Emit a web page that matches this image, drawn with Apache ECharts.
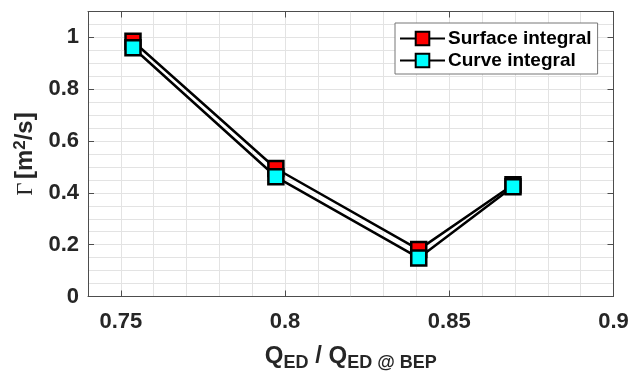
<!DOCTYPE html>
<html>
<head>
<meta charset="utf-8">
<script src="https://cdn.jsdelivr.net/npm/echarts@6/dist/echarts.min.js"></script>
<style>
  html, body { margin: 0; padding: 0; background: #fff; }
  #chart { width: 632px; height: 375px; }
</style>
</head>
<body>
<div id="chart"></div>
<script>
const qRatio = [0.7537, 0.7972, 0.8407, 0.8694]
const surfaceIntegral = [0.985, 0.494, 0.181, 0.431]
const curveIntegral = [0.960, 0.462, 0.149, 0.424]
const xTicks = [0.75, 0.8, 0.85, 0.9]
const yTicks = [0, 0.2, 0.4, 0.6, 0.8, 1]

const pairs = (ys) => qRatio.map((x, i) => [x, ys[i]])

const font = "'Liberation Sans', Arial, sans-serif"
const axisColor = "#4d4d4d"
const gridColor = "#e3e3e3"
const X_RANGE = { min: 0.74, max: 0.9 }
const Y_RANGE = { min: 0, max: 1.1 }

const myChart = echarts.init(document.getElementById("chart"))

const lineSeries = (name, color, data) => ({
  name,
  type: "line",
  data,
  xAxisIndex: 0,
  yAxisIndex: 0,
  symbol: "rect",
  symbolSize: 15,
  showAllSymbol: true,
  lineStyle: { color: "#000", width: 2.5 },
  itemStyle: { color, borderColor: "#000", borderWidth: 2.5 },
  emphasis: { disabled: true },
  animation: false
})

// frame axis: line + inward ticks, optional labels
const frameAxis = (position, range, ticks, label) => ({
  type: "value",
  position,
  ...range,
  axisLine: { show: true, onZero: false, lineStyle: { color: axisColor, width: 1 } },
  axisTick: { show: true, inside: true, length: 6, customValues: ticks, lineStyle: { color: axisColor } },
  axisLabel: label ? { customValues: ticks, ...label } : { show: false },
  splitLine: { show: false },
  z: 5
})

// hidden axis that only draws the fine grid
const gridAxis = (position, range, step) => ({
  type: "value",
  position,
  ...range,
  interval: step,
  axisLine: { show: false },
  axisTick: { show: false },
  axisLabel: { show: false },
  splitLine: { show: true, lineStyle: { color: gridColor, width: 1 } }
})

const tickLabel = {
  fontFamily: font, fontWeight: "bold", fontSize: 22, color: "#262626",
  formatter: (v) => String(+v.toFixed(2))
}

myChart.setOption({
  backgroundColor: "#fff",
  grid: { left: 88, top: 11.5, right: 18.5, bottom: 78.5, outerBoundsMode: "none", containLabel: false },
  legend: {
    left: 395,
    top: 23,
    orient: "vertical",
    backgroundColor: "#fff",
    borderColor: "#777",
    borderWidth: 1,
    padding: [6, 6, 4, 4],
    itemGap: 3,
    itemWidth: 45,
    itemHeight: 17,
    textStyle: { fontFamily: font, fontWeight: "bold", fontSize: 19, color: "#000", padding: [0, 0, 0, -2] },
    data: ["Surface integral", "Curve integral"]
  },
  xAxis: [
    {
      ...frameAxis("bottom", X_RANGE, xTicks, { margin: 14, ...tickLabel }),
      name: "{b|Q}{s|ED}{b| / Q}{s|ED @ BEP}",
      nameLocation: "middle",
      nameGap: 44,
      nameTextStyle: {
        rich: {
          b: { fontFamily: font, fontWeight: "bold", fontSize: 24, color: "#262626" },
          s: { fontFamily: font, fontWeight: "bold", fontSize: 18, color: "#262626", padding: [14, 0, 0, 0] }
        }
      }
    },
    frameAxis("top", X_RANGE, xTicks, null),
    gridAxis("bottom", X_RANGE, 0.01)
  ],
  yAxis: [
    {
      ...frameAxis("left", Y_RANGE, yTicks, { margin: 9, ...tickLabel }),
      name: "{g|Γ} {b|[m}{p|2}{b|/s]}",
      nameLocation: "middle",
      nameRotate: 90,
      nameGap: 45,
      nameTextStyle: {
        rich: {
          g: { fontFamily: "'Liberation Serif', 'Times New Roman', serif", fontSize: 23, color: "#262626" },
          b: { fontFamily: font, fontWeight: "bold", fontSize: 24, color: "#262626" },
          p: { fontFamily: font, fontWeight: "bold", fontSize: 17, color: "#262626", padding: [0, 0, 11, 0] }
        }
      }
    },
    frameAxis("right", Y_RANGE, yTicks, null),
    gridAxis("left", Y_RANGE, 0.05)
  ],
  series: [
    lineSeries("Surface integral", "#ff0000", pairs(surfaceIntegral)),
    lineSeries("Curve integral", "#00ffff", pairs(curveIntegral))
  ]
})
</script>
</body>
</html>
